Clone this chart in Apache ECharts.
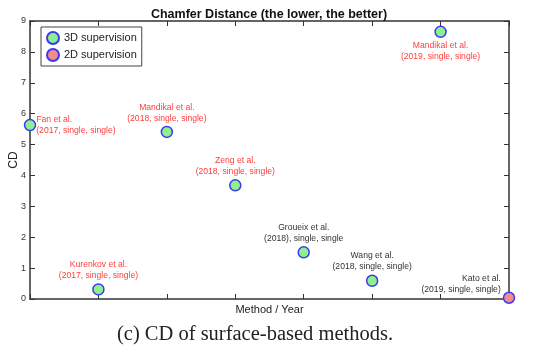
<!DOCTYPE html>
<html><head><meta charset="utf-8">
<script src="https://cdn.jsdelivr.net/npm/echarts@6/dist/echarts.min.js"></script>
<style>html,body{margin:0;padding:0;background:#fff}#c{width:553px;height:352px}</style>
</head><body><div id="c"></div>
<script>
// ---- data ----
const methods = ['Fan et al.', 'Kurenkov et al.', 'Mandikal et al.', 'Zeng et al.', 'Groueix et al.', 'Wang et al.', 'Mandikal et al.', 'Kato et al.'];
const details = ['(2017, single, single)', '(2017, single, single)', '(2018, single, single)', '(2018, single, single)', '(2018), single, single', '(2018, single, single)', '(2019, single, single)', '(2019, single, single)'];
const methodIndex = [0, 1, 2, 3, 4, 5, 6, 7];
const cdValues = [5.63, 0.31, 5.41, 3.68, 1.51, 0.59, 8.65, 0.04];
const supervision = ['3D', '3D', '3D', '3D', '3D', '3D', '3D', '2D'];
const yTicks = [0, 1, 2, 3, 4, 5, 6, 7, 8, 9];

// ---- styles (not data) ----
const labelColor = ['#ff3d3d', '#ff3d3d', '#ff3d3d', '#ff3d3d', '#333333', '#333333', '#ff3d3d', '#333333'];
const labelPos = ['right', 'top', 'top', 'top', 'top', 'top', 'bottom', 'left'];
const labelOffset = [[-2, 0], [0, 0], [0, 0], [0, 0], [0, 0], [0, 0], [0, 0], [0, -14]];

function pts(kind) {
  const out = [];
  for (let i = 0; i < methods.length; i++) {
    if (supervision[i] !== kind) continue;
    out.push({
      value: [methodIndex[i], cdValues[i]],
      label: {
        show: true,
        formatter: methods[i] + '\n' + details[i],
        position: labelPos[i],
        offset: labelOffset[i],
        distance: 2,
        color: labelColor[i],
        fontSize: 8.6,
        lineHeight: 11,
        fontFamily: 'Liberation Sans',
        align: labelPos[i] === 'right' ? 'left' : (labelPos[i] === 'left' ? 'right' : 'center')
      }
    });
  }
  return out;
}

const axisLine = { show: true, onZero: false, lineStyle: { color: '#333', width: 1.5 } };
const tick = { show: true, inside: true, length: 5, lineStyle: { color: '#333' } };
const chart = echarts.init(document.getElementById('c'));
chart.setOption({
  animation: false,
  title: [
    { text: 'Chamfer Distance (the lower, the better)', left: 264, top: 3, textAlign: 'center',
      textStyle: { fontSize: 12.5, fontWeight: 'bold', color: '#111', fontFamily: 'Liberation Sans' } },
    { text: '(c) CD of surface-based methods.', left: 250, top: 319, textAlign: 'center',
      textStyle: { fontSize: 20.5, fontWeight: 'normal', color: '#222', fontFamily: 'Liberation Serif' } }
  ],
  legend: {
    left: 41, top: 27, orient: 'vertical', itemGap: 3,
    padding: [4, 5, 4, 5],
    backgroundColor: '#fff', borderColor: '#444', borderWidth: 1,
    icon: 'circle', itemWidth: 12, itemHeight: 12,
    textStyle: { fontSize: 11, color: '#222', fontFamily: 'Liberation Sans' },
    data: ['3D supervision', '2D supervision']
  },
  grid: { left: 30, right: 44, top: 21, bottom: 53, containLabel: false, outerBoundsMode: 'none' },
  xAxis: [
    { type: 'value', min: 0, max: 7, interval: 1, position: 'bottom',
      name: 'Method / Year', nameLocation: 'middle', nameGap: 5, nameMoveOverlap: false,
      nameTextStyle: { fontSize: 11, color: '#222', fontFamily: 'Liberation Sans' },
      axisLine: axisLine, axisTick: tick,
      axisLabel: { show: false }, splitLine: { show: false } },
    { type: 'value', min: 0, max: 7, interval: 1, position: 'top',
      axisLine: axisLine, axisTick: tick,
      axisLabel: { show: false }, splitLine: { show: false } }
  ],
  yAxis: [
    { type: 'value', min: yTicks[0], max: yTicks[yTicks.length - 1], interval: 1, position: 'left',
      name: 'CD', nameLocation: 'middle', nameGap: 10, nameMoveOverlap: false,
      nameTextStyle: { fontSize: 12, color: '#222', fontFamily: 'Liberation Sans' },
      axisLine: axisLine, axisTick: tick,
      axisLabel: { fontSize: 9, color: '#333', margin: 4, fontFamily: 'Liberation Sans' },
      splitLine: { show: false } },
    { type: 'value', min: yTicks[0], max: yTicks[yTicks.length - 1], interval: 1, position: 'right',
      axisLine: axisLine, axisTick: tick,
      axisLabel: { show: false }, splitLine: { show: false } }
  ],
  series: [
    { name: '3D supervision', type: 'scatter', symbol: 'circle', symbolSize: 11, clip: false,
      itemStyle: { color: '#8ef08e', borderColor: '#3a3af0', borderWidth: 1.5, opacity: 1 },
      data: pts('3D') },
    { name: '2D supervision', type: 'scatter', symbol: 'circle', symbolSize: 11, clip: false,
      itemStyle: { color: '#f58a8a', borderColor: '#3a3af0', borderWidth: 1.5, opacity: 1 },
      data: pts('2D') }
  ]
});
</script></body></html>
